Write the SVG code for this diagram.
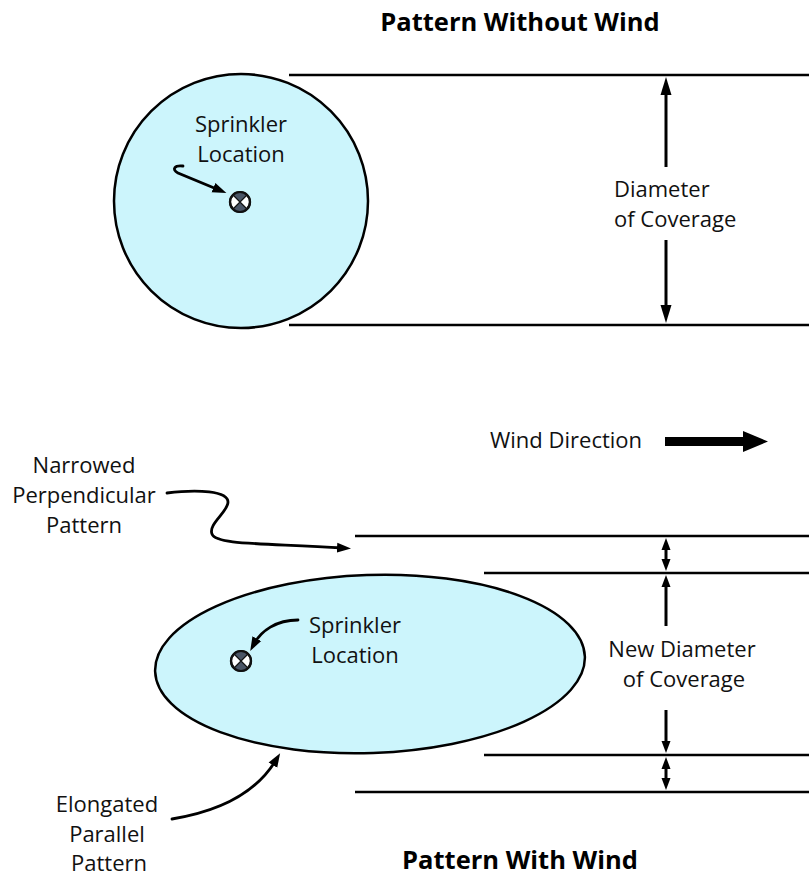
<svg xmlns="http://www.w3.org/2000/svg" width="809" height="877" viewBox="0 0 809 877">
<style>
.t{font-family:"Open Sans","Noto Sans","Liberation Sans",sans-serif;font-size:22px;fill:#111}
.c{text-anchor:middle}
.h{font-family:"Open Sans","Liberation Sans",sans-serif;font-size:25.5px;font-weight:700;fill:#000;text-anchor:middle}
.ln{stroke:#000;stroke-width:2.5;fill:none}
.ar{stroke:#000;stroke-width:3;fill:none}
.ld{stroke:#000;stroke-width:2.8;fill:none;stroke-linecap:round}
.zone{fill:#ccf5fc;stroke:#000;stroke-width:2.5}
</style>
<defs>
<marker id="big" markerUnits="userSpaceOnUse" markerWidth="18" markerHeight="12" refX="10" refY="6" orient="auto-start-reverse"><path d="M0,0.5 L18,6 L0,11.5 z" fill="#000"/></marker>
<marker id="sm" markerUnits="userSpaceOnUse" markerWidth="12" markerHeight="10" refX="6" refY="5" orient="auto-start-reverse"><path d="M0,0.5 L12,5 L0,9.5 z" fill="#000"/></marker>
<marker id="ldh" markerUnits="userSpaceOnUse" markerWidth="14" markerHeight="11" refX="6" refY="5.5" orient="auto"><path d="M0,0.5 L14,5.5 L0,10.5 z" fill="#000"/></marker>
<g id="spr">
<circle r="10" fill="#fff" stroke="#111" stroke-width="2.2"/>
<path d="M0,0 L-7,-7 A10,10 0 0 1 7,-7 Z M0,0 L7,7 A10,10 0 0 1 -7,7 Z" fill="#4a5566"/>
<path d="M-7,-7 L7,7 M7,-7 L-7,7" stroke="#111" stroke-width="1.2"/>
<circle r="10" fill="none" stroke="#111" stroke-width="2.2"/>
</g>
</defs>

<g id="title-top"><text class="h" x="520" y="31">Pattern Without Wind</text></g>
<g id="title-bottom"><text class="h" x="520" y="869">Pattern With Wind</text></g>

<g id="circle-pattern">
<circle class="zone" cx="241" cy="201" r="127"/>
</g>
<g id="ellipse-pattern">
<ellipse class="zone" cx="370" cy="664" rx="215" ry="89" transform="rotate(-2 370 664)"/>
</g>

<g id="sprinkler-top"><use href="#spr" x="240" y="202"/></g>
<g id="sprinkler-bottom"><use href="#spr" x="241" y="661"/></g>

<g id="label-sprinkler-top"><text class="t c" x="241" y="132">Sprinkler</text><text class="t c" x="241" y="162">Location</text></g>
<g id="label-diameter"><text class="t" x="614" y="197">Diameter</text><text class="t" x="614" y="227">of Coverage</text></g>
<g id="label-wind"><text class="t" x="490" y="448">Wind Direction</text></g>
<g id="wind-arrow"><path d="M665,437 L743,437 L743,431 L768,441.5 L743,452 L743,446 L665,446 Z" fill="#000"/></g>
<g id="label-narrowed"><text class="t c" x="84" y="473">Narrowed</text><text class="t c" x="84" y="503">Perpendicular</text><text class="t c" x="84" y="533">Pattern</text></g>
<g id="label-sprinkler-bottom"><text class="t c" x="355" y="633">Sprinkler</text><text class="t c" x="355" y="663">Location</text></g>
<g id="label-new-diameter"><text class="t c" x="682" y="657">New Diameter</text><text class="t c" x="684" y="687">of Coverage</text></g>
<g id="label-elongated"><text class="t c" x="107" y="812">Elongated</text><text class="t c" x="107" y="842">Parallel</text><text class="t c" x="109" y="871">Pattern</text></g>

<g id="connectors">
<path class="ln" d="M289,75 H809 M289,325 H809"/>
<path class="ln" d="M355,536 H809 M484,573 H809 M484,755 H809 M355,792 H809"/>
<path class="ar" d="M666,167 V85" marker-end="url(#big)"/>
<path class="ar" d="M666,240 V315" marker-end="url(#big)"/>
<path class="ar" d="M666,544 V565" marker-start="url(#sm)" marker-end="url(#sm)"/>
<path class="ar" d="M666,626 V581" marker-end="url(#sm)"/>
<path class="ar" d="M666,710 V747" marker-end="url(#sm)"/>
<path class="ar" d="M666,763 V784" marker-start="url(#sm)" marker-end="url(#sm)"/>
<path class="ld" d="M183,166 C175,165 171,169 178,173 L219,190" marker-end="url(#ldh)"/>
<path class="ld" d="M298,620 C276,620 261,631 254,644" marker-end="url(#ldh)"/>
<path class="ld" d="M167,493 C198,489 228,491 228,502 C228,512 208,524 212,534 C216,545 262,543 343,548" marker-end="url(#ldh)"/>
<path class="ld" d="M172,819 C215,812 255,795 276,760" marker-end="url(#ldh)"/>
</g>
</svg>
